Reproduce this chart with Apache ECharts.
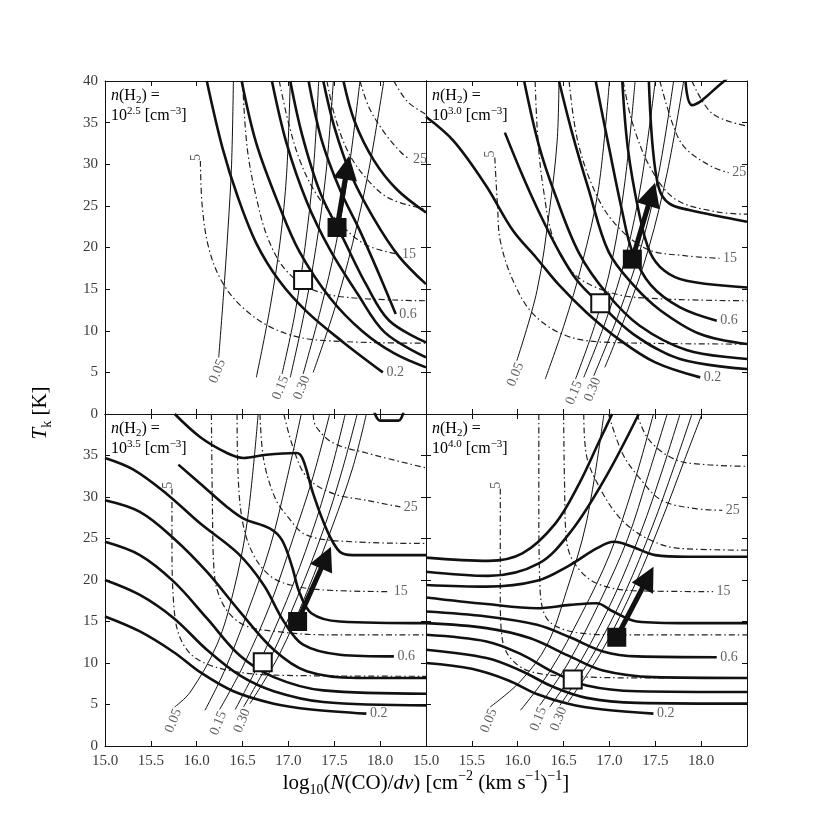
<!DOCTYPE html>
<html>
<head>
<meta charset="utf-8">
<script src="https://cdn.jsdelivr.net/npm/echarts@6/dist/echarts.min.js"></script>
<style>html,body{margin:0;background:#fff}#main{width:830px;height:830px}</style>
</head>
<body>
<div id="main"></div>
<script>
// densities shown in each panel (log10 n(H2))
var densities = ['2.5', '3.0', '3.5', '4.0'];
var xTickLabels = ['15.0', '15.5', '16.0', '16.5', '17.0', '17.5', '18.0'];
var yTickLabels = ['0', '5', '10', '15', '20', '25', '30', '35', '40'];

// thick contours, panel n=10^2.5
var thick25 = [
  [[16.11,40],[16.28,32],[16.45,26],[16.65,20.5],[16.9,16],[17.2,12.3],[17.6,8.6],[18.03,5.0]],
  [[16.49,40],[16.65,32.5],[16.9,25],[17.12,19.5],[17.45,14],[17.8,10],[18.15,7.3],[18.5,5.6]],
  [[16.82,40],[16.98,32.5],[17.2,25.5],[17.45,19.8],[17.75,14.5],[18.05,9.8],[18.5,6.8]],
  [[17.02,40],[17.15,33.5],[17.35,26.5],[17.6,21],[17.85,15.5],[18.1,11.2],[18.5,8.6]],
  [[17.22,40],[17.36,33],[17.56,27],[17.78,22],[17.98,17],[18.17,12]],
  [[17.38,40],[17.5,34.5],[17.68,28.8],[17.93,23.5],[18.2,19],[18.5,15.6]],
  [[17.6,40],[17.72,35.2],[17.93,30.5],[18.18,27],[18.5,24.2]]
];
// thin contours (optical depth), n=10^2.5
var thin25 = [
  [[16.24,6.8],[16.29,14],[16.34,22],[16.38,30],[16.4,40]],
  [[16.65,4.4],[16.8,12.8],[16.91,20.8],[16.98,28.8],[17.02,40]],
  [[16.93,4.8],[17.07,12],[17.18,20],[17.27,29],[17.33,40]],
  [[17.02,4.4],[17.17,12],[17.3,20],[17.41,29],[17.49,40]],
  [[17.16,4.8],[17.35,12.5],[17.52,20.5],[17.66,29.5],[17.78,40]],
  [[17.27,5],[17.5,12.5],[17.7,20.5],[17.88,29.5],[18.04,40]]
];
// dash-dot contours, n=10^2.5
var dash25 = [
  [[16.04,30.4],[16.06,25],[16.13,20],[16.27,16],[16.5,12.8],[16.85,10.2],[17.3,8.9],[18.5,8.5]],
  [[16.5,40],[16.55,32],[16.65,26],[16.78,21],[16.97,17.3],[17.25,15],[17.65,14],[18.5,13.6]],
  [[16.9,40],[17.0,35],[17.13,30.3],[17.3,26.5],[17.55,23],[17.85,20.3],[18.2,19.2]],
  [[17.42,40],[17.5,36],[17.65,31.5],[17.85,28.3],[18.1,25.9],[18.5,24.6]],
  [[17.78,40],[17.88,36.8],[18.04,33.9],[18.22,31.5],[18.32,30.6]],
  [[18.15,40],[18.3,37.5],[18.5,36]]
];

// n=10^3.0
var thick30 = [
  [[15.0,35.7],[15.3,32.8],[15.65,27.5],[15.95,22],[16.2,18.8],[16.45,15.5],[16.75,12.2],[17.1,9],[17.5,6.2],[17.99,4.4]],
  [[15.86,33.8],[16.05,28.7],[16.23,24.3],[16.45,19.5],[16.65,16],[16.9,13.2],[17.26,9.6],[17.77,6.6],[18.5,5.4]],
  [[16.07,40],[16.23,32.3],[16.41,26.3],[16.67,19.3],[16.97,14.5],[17.33,10.6],[17.84,7.7],[18.5,6.6]],
  [[16.45,40],[16.59,33.9],[16.77,27.1],[16.99,19.5],[17.26,15.5],[17.55,12.5],[17.99,9.6],[18.5,8.4]],
  [[16.85,40],[16.99,32.3],[17.14,24.3],[17.25,19.5],[17.45,15.5],[17.77,12.8],[18.17,11.2]],
  [[17.14,40],[17.2,32],[17.32,24.3],[17.44,19.5],[17.6,17.2],[17.84,16],[18.5,15.2]],
  [[17.43,40],[17.47,32.3],[17.54,27.1],[17.65,25.3],[17.87,24.5],[18.5,23.1]],
  [[17.83,40],[17.9,37.1],[18.23,39.8],[18.3,40.5]]
];
var thin30 = [
  [[15.99,6.4],[16.21,14.8],[16.35,24.8],[16.43,32.8],[16.45,40]],
  [[16.3,4.2],[16.5,10.5],[16.7,18],[16.88,27],[17.0,40]],
  [[16.63,4.2],[16.85,11],[17.03,18.5],[17.17,28],[17.28,40]],
  [[16.72,4.4],[16.97,11.5],[17.18,19],[17.35,28],[17.5,40]],
  [[16.83,4.6],[17.1,12],[17.33,19.5],[17.53,28.5],[17.7,40]],
  [[16.95,5.6],[17.2,12.5],[17.43,20],[17.63,29],[17.81,40]]
];
var dash30 = [
  [[15.75,30.8],[15.78,25],[15.81,20.8],[15.95,16],[16.17,12],[16.53,9.4],[17.0,8.6],[18.5,8.4]],
  [[16.19,40],[16.22,33],[16.28,27],[16.39,21],[16.6,17],[16.9,15],[17.3,14],[18.5,13.6]],
  [[16.56,40],[16.65,33],[16.83,27],[17.05,23],[17.41,19.8],[17.84,19],[18.2,18.7]],
  [[17.15,40],[17.25,35],[17.45,29.5],[17.72,25.8],[18.16,24.3],[18.5,24]],
  [[17.55,40],[17.7,34.5],[17.83,31.9],[18.12,29.7],[18.3,29]],
  [[17.9,40],[18.12,36.1],[18.5,34.6]]
];

// n=10^3.5
var thick35 = [
  [[15.0,15.6],[15.38,13.8],[15.75,11.3],[16.05,8.8],[16.4,6.6],[16.84,5.1],[17.25,4.4],[17.85,3.9]],
  [[15.0,20],[15.38,18.2],[15.75,15.4],[16.11,11.6],[16.47,8.5],[16.84,6.6],[17.38,5.3],[18.5,4.9]],
  [[15.0,24.6],[15.38,23],[15.75,19.8],[16.11,15.4],[16.47,10.9],[16.84,8.3],[17.38,6.7],[18.5,6.3]],
  [[15.0,29.6],[15.38,28.2],[15.75,25],[16.11,21],[16.47,16.2],[16.84,11.6],[17.2,9.0],[17.75,8.2],[18.5,8.2]],
  [[15.0,34.7],[15.31,33.3],[15.67,30.4],[16.04,26.8],[16.45,23.2],[16.73,19.4],[16.95,15],[17.16,12.2],[17.56,11],[18.15,10.8]],
  [[15.8,33.9],[16.04,31.6],[16.33,28.8],[16.51,27.4],[16.8,26.2],[16.93,24.8],[17.04,21.6],[17.12,18.5],[17.25,16],[17.56,15],[18.5,14.8]],
  [[15.76,40],[16.04,37.2],[16.33,35.3],[16.51,34.7],[16.76,35.1],[17.09,35.3],[17.16,34.5],[17.27,30.4],[17.42,26],[17.56,23.4],[17.7,23],[18.5,23]],
  [[17.93,40.5],[18.0,39.2],[18.2,39.2],[18.26,40.5]]
];
var thin35 = [
  [[15.76,4.7],[15.93,6.5],[16.22,12.2],[16.4,18.6],[16.55,27],[16.67,40]],
  [[16.09,4.3],[16.3,9],[16.55,16],[16.8,24],[16.98,32],[17.14,40]],
  [[16.25,4.4],[16.5,9.5],[16.8,17],[17.05,25],[17.27,32.5],[17.45,40]],
  [[16.42,4.4],[16.68,10],[16.98,17.5],[17.25,25.5],[17.46,33],[17.62,40]],
  [[16.51,4.7],[16.8,10.5],[17.1,18],[17.38,26],[17.58,33],[17.75,40]],
  [[16.58,5.1],[16.9,11],[17.2,18.5],[17.48,26.5],[17.7,33.5],[17.85,40]]
];
var dash35 = [
  [[15.73,31],[15.73,25],[15.75,17],[15.82,13],[16.0,10.5],[16.4,9],[17.0,8.5],[18.5,8.4]],
  [[16.16,40],[16.17,30],[16.19,21],[16.29,17],[16.51,14.6],[16.87,13.8],[17.38,13.4],[18.5,13.4]],
  [[16.44,40],[16.45,33],[16.5,27],[16.62,23],[16.8,20.5],[17.02,19.4],[17.38,18.8],[18.11,18.6]],
  [[16.69,40],[16.73,34.5],[16.85,30],[16.98,27.8],[17.2,25.4],[17.71,24.6],[18.5,24.4]],
  [[16.95,40],[17.05,36],[17.2,32.4],[17.49,30.4],[17.85,29.6],[18.22,28.8]],
  [[17.27,40],[17.3,38.5],[17.49,36.5],[17.85,35.3],[18.5,33.5]]
];

// n=10^4.0
var thick40 = [
  [[15.0,10],[15.5,9.3],[15.9,7.9],[16.2,6.3],[16.55,5.1],[16.93,4.4],[17.48,3.9]],
  [[15.0,11.6],[15.66,10.6],[16.03,9.1],[16.39,7.1],[16.75,5.8],[17.3,5.2],[18.5,5.1]],
  [[15.0,13.4],[15.66,12.6],[16.03,11.1],[16.39,8.9],[16.75,7.3],[17.3,6.6],[18.5,6.5]],
  [[15.0,14.8],[15.66,14.2],[16.13,13],[16.57,10.8],[16.93,9.1],[17.48,8.3],[18.5,8.2]],
  [[15.0,16.2],[15.66,15.6],[16.21,14.6],[16.57,13.1],[16.93,11.4],[17.3,10.8],[18.17,10.7]],
  [[15.0,17.9],[15.66,17.1],[16.21,16.6],[16.57,17],[16.86,17.2],[17.04,16.2],[17.3,15],[17.84,14.8],[18.5,14.8]],
  [[15.0,19.4],[15.66,19.2],[16.21,19.9],[16.57,21.8],[16.86,23.8],[17.05,24.6],[17.25,24],[17.5,23],[17.84,22.8],[18.5,22.8]],
  [[15.0,21],[15.68,20.5],[16.23,22],[16.59,26],[16.96,32.4],[17.32,40]],
  [[15.0,22.7],[15.68,22.3],[16.05,23.2],[16.41,26.8],[16.67,31.6],[16.88,36.5],[17.03,40]]
];
var thin40 = [
  [[15.7,4.7],[16.03,7.8],[16.32,12.2],[16.53,18.6],[16.75,27],[16.94,40]],
  [[16.03,4.3],[16.35,9],[16.7,16],[17.0,23],[17.25,31],[17.48,40]],
  [[16.24,4.9],[16.55,10],[16.9,17.5],[17.2,25],[17.42,32.5],[17.63,40]],
  [[16.35,4.7],[16.7,10.5],[17.05,18],[17.35,26],[17.57,33],[17.77,40]],
  [[16.46,4.9],[16.82,11],[17.17,18.5],[17.47,26.5],[17.7,33.5],[17.9,40]],
  [[16.55,5.3],[16.92,11.5],[17.28,19.5],[17.58,27.5],[17.82,34.5],[18.01,40]]
];
var dash40 = [
  [[15.81,31],[15.81,25],[15.81,18],[15.83,13],[15.92,10.6],[16.13,9],[16.57,8.4],[17.48,8.2],[18.5,8.2]],
  [[16.23,40],[16.23,30],[16.24,20],[16.28,16.2],[16.39,14.6],[16.68,13.6],[17.12,13.4],[18.5,13.4]],
  [[16.5,40],[16.51,32],[16.53,25],[16.62,22],[16.86,19.6],[17.3,18.7],[18.13,18.6]],
  [[16.72,40],[16.75,35],[16.9,31],[17.12,27.4],[17.41,25],[17.77,23.8],[18.5,23.6]],
  [[16.99,40],[17.14,35.3],[17.32,32.4],[17.57,29.6],[17.94,28.6],[18.23,28.4]],
  [[17.3,40],[17.43,36.9],[17.72,34.5],[18.05,33.9],[18.5,33.7]]
];

// contour tags (by curve index)
var thickTags = ['0.2', null, null, null, '0.6'];
var thinTags = ['0.05', null, '0.15', null, '0.30'];
var dashTags = ['5', null, '15', null, '25'];

// observed points and arrows
var filledSquares = [[17.53,22.4],[17.25,18.6],[17.1,15.0],[17.08,13.1]];
var openSquares = [[17.16,16.1],[16.9,13.3],[16.72,10.1],[16.6,8.0]];
var arrowTips = [[17.64,29.6],[17.46,26.4],[17.41,22.7],[17.42,20.3]];

var thickSets = [thick25, thick30, thick35, thick40];
var thinSets = [thin25, thin30, thin35, thin40];
var dashSets = [dash25, dash30, dash35, dash40];

var SERIF = 'Liberation Serif';
var INK = '#111';
var TXT = '#3a3a3a';

var grids = [
  {left: 105, top: 81, width: 321, height: 333},
  {left: 426, top: 81, width: 321, height: 333},
  {left: 105, top: 414, width: 321, height: 332},
  {left: 426, top: 414, width: 321, height: 332}
];

var xAxes = [], yAxes = [];
grids.forEach(function (g, i) {
  var bottomRow = i >= 2, leftCol = i % 2 === 0;
  [['bottom', bottomRow], ['top', false]].forEach(function (d) {
    xAxes.push({
      type: 'value', gridIndex: i, position: d[0], min: 15, max: 18.5, interval: 0.5,
      axisLine: {show: true, onZero: false, lineStyle: {color: INK, width: 1}},
      axisTick: {show: true, inside: true, length: 5, lineStyle: {color: INK}},
      splitLine: {show: false},
      axisLabel: {show: d[1], margin: 8, color: TXT, fontFamily: SERIF, fontSize: 15,
        formatter: function (v) { return xTickLabels[Math.round((v - 15) / 0.5)] || ''; }}
    });
  });
  [['left', leftCol], ['right', false]].forEach(function (d) {
    yAxes.push({
      type: 'value', gridIndex: i, position: d[0], min: 0, max: 40, interval: 5,
      axisLine: {show: true, onZero: false, lineStyle: {color: INK, width: 1}},
      axisTick: {show: true, inside: true, length: 5, lineStyle: {color: INK}},
      splitLine: {show: false},
      axisLabel: {show: d[1], margin: 7, color: TXT, fontFamily: SERIF, fontSize: 15,
        formatter: function (v) {
          if (bottomRow && v >= 40) return '';
          return yTickLabels[Math.round(v / 5)];
        }}
    });
  });
});

var series = [];
function curve(p, pts, style, z) {
  return {
    type: 'line', xAxisIndex: 2 * p, yAxisIndex: 2 * p, data: pts,
    smooth: 0.35, showSymbol: false, symbol: 'none', silent: true,
    lineStyle: style, z: z
  };
}
var labelFont = {fontFamily: SERIF, fontSize: 14, color: TXT};

for (var p = 0; p < 4; p++) {
  dashSets[p].forEach(function (c) {
    series.push(curve(p, c, {color: '#222', width: 1.2, type: [6, 3, 1.5, 3]}, 2));
  });
  thinSets[p].forEach(function (c) {
    series.push(curve(p, c, {color: INK, width: 1}, 3));
  });
  thickSets[p].forEach(function (c) {
    series.push(curve(p, c, {color: INK, width: 2.6}, 4));
  });

  // contour tags
  var tags = [];
  thickSets[p].forEach(function (c, k) {
    if (!thickTags[k]) return;
    var e = c[c.length - 1];
    tags.push({value: e, label: Object.assign({show: true, formatter: thickTags[k], position: 'right', distance: 3}, labelFont)});
  });
  thinSets[p].forEach(function (c, k) {
    if (!thinTags[k]) return;
    tags.push({value: c[0], label: Object.assign({show: true, formatter: thinTags[k], position: 'inside',
      rotate: 68, align: 'right', verticalAlign: 'middle', offset: [-1, 4]}, labelFont)});
  });
  dashSets[p].forEach(function (c, k) {
    if (!dashTags[k]) return;
    if (k === 0) {
      tags.push({value: c[0], label: Object.assign({show: true, formatter: dashTags[k], position: 'inside',
        rotate: 90, align: 'left', verticalAlign: 'middle', offset: [0, -4]}, labelFont)});
    } else {
      var e = c[c.length - 1];
      tags.push({value: e, label: Object.assign({show: true, formatter: dashTags[k], position: 'right', distance: 3}, labelFont)});
    }
  });
  series.push({
    type: 'scatter', xAxisIndex: 2 * p, yAxisIndex: 2 * p, data: tags, symbolSize: 1,
    itemStyle: {color: 'rgba(0,0,0,0)'}, silent: true, z: 7
  });

  // arrow
  series.push({
    type: 'line', xAxisIndex: 2 * p, yAxisIndex: 2 * p, data: [filledSquares[p], arrowTips[p]],
    showSymbol: false, lineStyle: {opacity: 0}, silent: true, z: 5,
    markLine: {
      silent: true, symbol: ['none', 'triangle'], symbolSize: 24, animation: false,
      label: {show: false},
      lineStyle: {color: INK, width: 5, type: 'solid', opacity: 1},
      data: [[{coord: filledSquares[p]}, {coord: arrowTips[p]}]]
    }
  });
  // squares
  series.push({
    type: 'scatter', xAxisIndex: 2 * p, yAxisIndex: 2 * p, data: [openSquares[p]],
    symbol: 'rect', symbolSize: 18, silent: true, z: 6,
    itemStyle: {color: '#fff', borderColor: INK, borderWidth: 2, opacity: 1}
  });
  series.push({
    type: 'scatter', xAxisIndex: 2 * p, yAxisIndex: 2 * p, data: [filledSquares[p]],
    symbol: 'rect', symbolSize: 19, silent: true, z: 6,
    itemStyle: {color: INK, opacity: 1}
  });
}

var rich = {
  r: {fontFamily: SERIF, fontSize: 16, color: TXT, lineHeight: 20},
  i: {fontFamily: SERIF, fontSize: 16, fontStyle: 'italic', color: TXT, lineHeight: 20},
  sub: {fontFamily: SERIF, fontSize: 11, color: TXT, lineHeight: 12, verticalAlign: 'bottom'},
  sup: {fontFamily: SERIF, fontSize: 11, color: TXT, lineHeight: 12, verticalAlign: 'top'}
};
var bigRich = {
  r: {fontFamily: SERIF, fontSize: 21, color: TXT, lineHeight: 28},
  i: {fontFamily: SERIF, fontSize: 21, fontStyle: 'italic', color: TXT, lineHeight: 28},
  sub: {fontFamily: SERIF, fontSize: 14, color: TXT, lineHeight: 14, verticalAlign: 'bottom'},
  sup: {fontFamily: SERIF, fontSize: 14, color: TXT, lineHeight: 14, verticalAlign: 'top'}
};

var graphics = densities.map(function (d, i) {
  return {
    type: 'text', left: grids[i].left + 6, top: grids[i].top + 7, z: 20,
    style: {
      text: '{i|n}{r|(H}{sub|2}{r|) =}\n{r|10}{sup|' + d + '}{r| [cm}{sup|\u22123}{r|]}',
      rich: rich
    }
  };
});
graphics.push({
  type: 'text', x: 40, y: 413, rotation: Math.PI / 2, z: 20,
  style: {text: '{i|T}{sub|k}{r| [K]}', rich: bigRich, align: 'center', verticalAlign: 'middle'}
});
graphics.push({
  type: 'text', x: 426, y: 783, z: 20,
  style: {
    text: '{r|log}{sub|10}{r|(}{i|N}{r|(CO)/}{i|dv}{r|) [cm}{sup|\u22122}{r| (km s}{sup|\u22121}{r|)}{sup|\u22121}{r|]}',
    rich: bigRich, align: 'center', verticalAlign: 'middle'
  }
});

var option = {
  animation: false,
  backgroundColor: '#fff',
  grid: grids,
  xAxis: xAxes,
  yAxis: yAxes,
  series: series,
  graphic: graphics
};
var myChart = echarts.init(document.getElementById('main'));
myChart.setOption(option);
</script>
</body>
</html>
